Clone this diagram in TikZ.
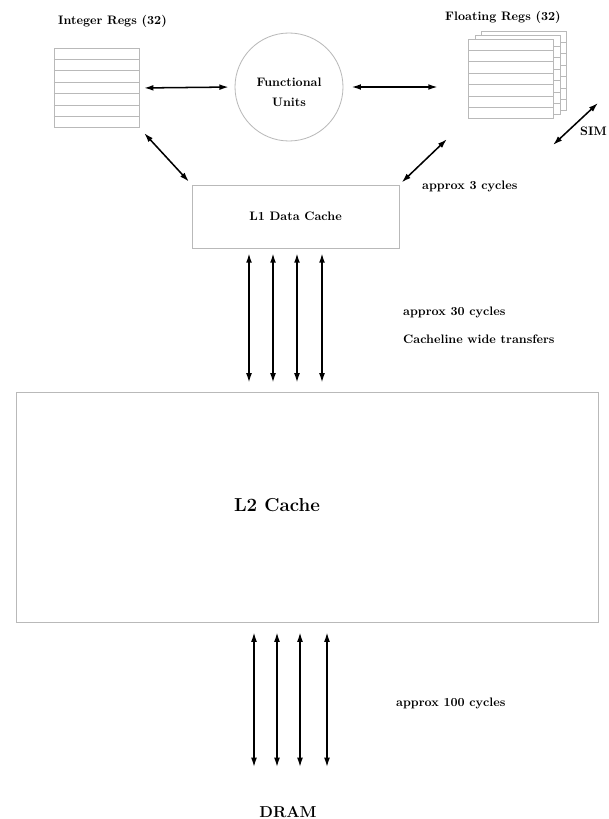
\documentclass[tikz,border=0pt]{standalone}
\usepackage{fontspec}
\usepackage{tikz}
\usetikzlibrary{calc,arrows.meta}

\begin{document}
\begin{tikzpicture}[x=0.03cm,y=-0.03cm,
    box/.style={draw=gray!55,line width=0.7pt,fill=white,inner sep=0pt},
    regs/.style={box,minimum width=2.55cm,minimum height=2.37cm},
    arr/.style={line width=1.3pt,{Latex[length=8pt,width=5pt]}-{Latex[length=8pt,width=5pt]}},
    txt/.style={font=\fontsize{10.5}{12}\bfseries\selectfont,inner sep=0pt,anchor=west}]
	\useasboundingbox (0,0) rectangle (608,819);
	% register files, the floating point one drawn as a stack
	\foreach \r/\p in {intregs/{96.5,88},fpback/{524,71},fpmid/{517.5,75},fpregs/{511,79}}{
		\node[regs] (\r) at (\p) {};
		\foreach \i in {1,...,6}
			\draw[gray!55,line width=0.7pt] ($(\r.north west)!\i/7!(\r.south west)$) -- ($(\r.north east)!\i/7!(\r.south east)$);
	}
	\node[txt] (intlbl) at (58,21) {Integer Regs (32)};
	\node[txt] (fplbl) at (445,17) {Floating Regs (32)};
	\node[box,circle,minimum size=3.24cm] (fu) at (289,87) {};
	\node[align=center,font=\fontsize{10.5}{17}\bfseries\selectfont] (fulbl) at (289,92) {Functional\\Units};
	\node[box,minimum width=6.21cm,minimum height=1.89cm,font=\fontsize{10.5}{12}\bfseries\selectfont] (l1) at (295.5,216.5) {L1 Data Cache};
	\node[box,minimum width=17.46cm,minimum height=6.9cm] (l2) at (307,507) {};
	\node[font=\fontsize{16}{19}\bfseries\selectfont] (l2lbl) at (277,505) {L2 Cache};
	\node[font=\fontsize{13.5}{16}\bfseries\selectfont] (dram) at (288,812) {DRAM};
	% register traffic
	\draw[arr,shorten <=4pt,shorten >=5pt] (intregs.east) -- (fu.west);
	\draw[arr,shorten <=7pt,shorten >=26pt] (fu.east) -- (fu.east -| fpregs.west);
	\draw[arr,shorten <=6pt,shorten >=3.4pt] (intregs.south east) -- (l1.north west);
	\draw[arr,shorten <=25pt,shorten >=2.7pt] (fpregs.south west) -- (l1.north east);
	\coordinate (simda) at (553,145);
	\coordinate (simdb) at (598,103);
	\draw[arr] (simda) -- (simdb);
	\node[txt] (simdlbl) at (580,131) {SIM};
	% cache lines
	\foreach \x in {249,273,297,322}
		\draw[arr,shorten <=4.2pt,shorten >=7.7pt] (l1.south -| \x,0) -- (l2.north -| \x,0);
	\foreach \x in {254,277,300,327}
		\draw[arr,shorten <=8.5pt,shorten >=30pt] (l2.south -| \x,0) -- (dram.north -| \x,0);
	\node[txt] (lat1) at (422,186) {approx 3 cycles};
	\node[txt] (lat2) at (403,312) {approx 30 cycles};
	\node[txt] (wide) at (403,339) {Cacheline wide transfers};
	\node[txt] (lat3) at (396,703) {approx 100 cycles};
\end{tikzpicture}
\end{document}
